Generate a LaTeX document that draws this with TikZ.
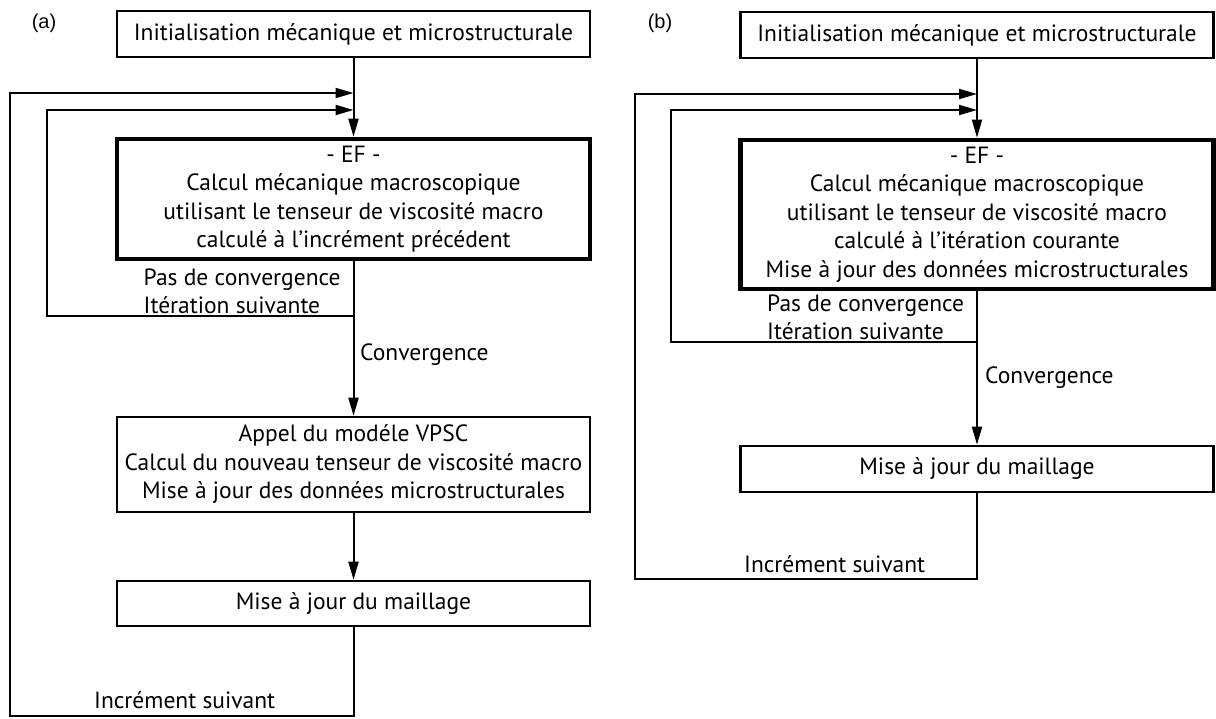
\documentclass[tikz,border=0pt]{standalone}
\usepackage{fontspec}
\setmainfont{PT Sans}
\newfontfamily\labfont{Liberation Sans}
\usetikzlibrary{arrows.meta}
\begin{document}
\begin{tikzpicture}[x=1pt,y=-1pt,
  box/.style={draw, line width=2.6pt, inner sep=0pt, align=center,
    font=\fontsize{23.5}{28.5}\selectfont, minimum width=473pt},
  thickbox/.style={box, line width=4.6pt},
  conn/.style={line width=2pt},
  arr/.style={conn, -{Triangle[length=18pt,width=10pt]}},
  lab/.style={font=\fontsize{23.5}{28.5}\selectfont, inner sep=0pt, anchor=base west, align=left},
  panel/.style={font=\labfont\fontsize{20}{22}\selectfont, inner sep=0pt}]
\useasboundingbox (0,0) rectangle (1216,718);

% ---------------- panel (a)
\node[panel] (pa) at (44,23) {(a)};
\node[box, minimum height=46pt] (initA) at (353.5,34) {Initialisation mécanique et microstructurale};
\node[thickbox, minimum height=120pt] (efA) at (353.5,199) {- EF -\\Calcul mécanique macroscopique\\utilisant le tenseur de viscosité macro\\calculé à l’incrément précédent};
\node[box, minimum height=95pt] (vpscA) at (353.5,464.5) {Appel du modéle VPSC\\Calcul du nouveau tenseur de viscosité macro\\Mise à jour des données microstructurales};
\node[box, minimum height=45pt] (mailA) at (353.5,603.5) {Mise à jour du maillage};

\coordinate (jA1) at (353.5,93);
\coordinate (jA2) at (353.5,110);
\coordinate (oA) at (10,716);
\coordinate (iA) at (47,316);
\coordinate (cA) at (353.5,316);

\draw[arr] (initA.south) -- (efA.north);
\draw[arr] (mailA.south) |- (oA) |- (jA1);
\draw[arr] (efA.south) -- (cA) -- (iA) |- (jA2);
\draw[arr] (cA) -- (vpscA.north);
\draw[arr] (vpscA.south) -- (mailA.north);

\node[lab] (pcA) at (143.5,285) {Pas de convergence};
\node[lab] (isA) at (143.5,313) {Itération suivante};
\node[lab] (cvA) at (360,360) {Convergence};
\node[lab] (incA) at (94,708) {Incrément suivant};

% ---------------- panel (b)
\node[panel] (pb) at (660,23) {(b)};
\node[box, minimum height=46pt] (initB) at (977,35) {Initialisation mécanique et microstructurale};
\node[thickbox, minimum height=149pt] (efB) at (977,214.5) {- EF -\\Calcul mécanique macroscopique\\utilisant le tenseur de viscosité macro\\calculé à l’itération courante\\Mise à jour des données microstructurales};
\node[box, minimum height=46pt] (mailB) at (977,469) {Mise à jour du maillage};

\coordinate (jB1) at (977,94);
\coordinate (jB2) at (977,110);
\coordinate (oB) at (635,579);
\coordinate (iB) at (671,342);
\coordinate (cB) at (977,342);

\draw[arr] (initB.south) -- (efB.north);
\draw[arr] (mailB.south) |- (oB) |- (jB1);
\draw[arr] (efB.south) -- (cB) -- (iB) |- (jB2);
\draw[arr] (cB) -- (mailB.north);

\node[lab] (pcB) at (767,311) {Pas de convergence};
\node[lab] (isB) at (767,339) {Itération suivante};
\node[lab] (cvB) at (985,383) {Convergence};
\node[lab] (incB) at (744,572) {Incrément suivant};
\end{tikzpicture}
\end{document}
